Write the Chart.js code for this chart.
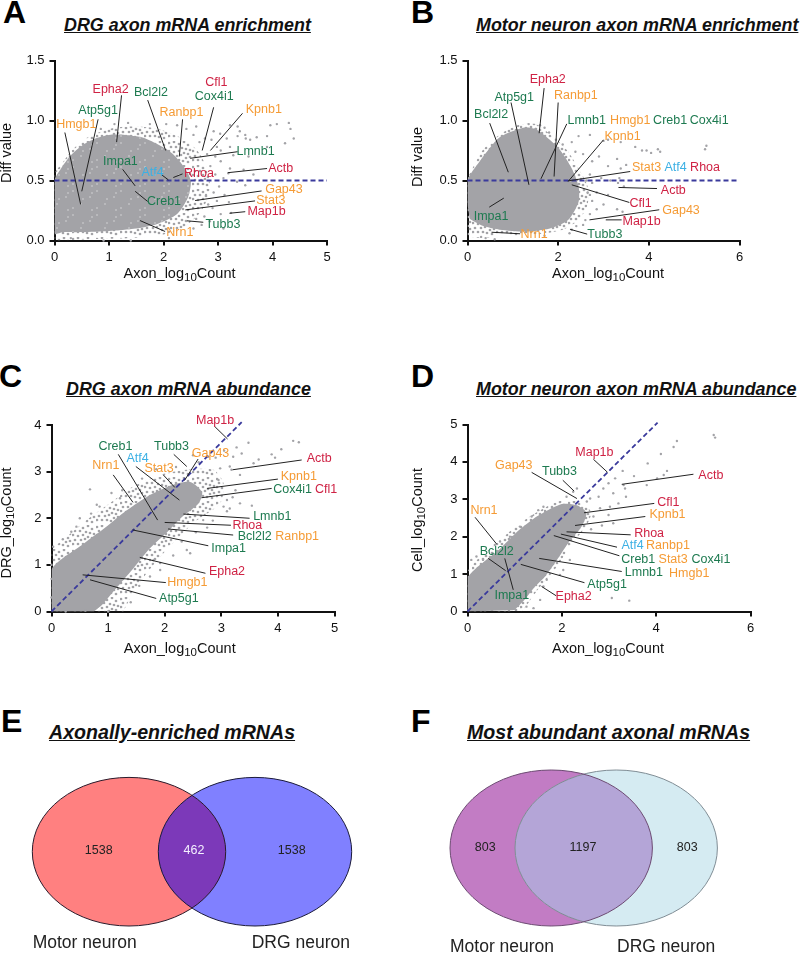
<!DOCTYPE html>
<html>
<head>
<meta charset="utf-8">
<title>Axon mRNA panels</title>
<script src="https://cdn.jsdelivr.net/npm/chart.js@4/dist/chart.umd.min.js"></script>
<style>
    html, body { margin: 0; padding: 0; background: #fff; }
    body { position: relative; width: 800px; height: 953px; overflow: hidden; font-family: "Liberation Sans", sans-serif; }
    canvas { position: absolute; }
    .letter { position: absolute; font: bold 32px/32px "Liberation Sans", sans-serif; color: #000; }
    .title { position: absolute; font: italic bold 17.9px/20px "Liberation Sans", sans-serif; color: #111; text-decoration: underline; white-space: nowrap; }
    .venn-title { font-size: 19.6px; }
</style>
</head>
<body>
<div class="letter" style="left:3px;top:-4px">A</div>
<div class="letter" style="left:411px;top:-4px">B</div>
<div class="letter" style="left:-1px;top:360px">C</div>
<div class="letter" style="left:411px;top:360px">D</div>
<div class="letter" style="left:1px;top:705px">E</div>
<div class="letter" style="left:411px;top:705px">F</div>
<div class="title" style="left:64px;top:15px">DRG axon mRNA enrichment</div>
<div class="title" style="left:476px;top:15px">Motor neuron axon mRNA enrichment</div>
<div class="title" style="left:66px;top:379px">DRG axon mRNA abundance</div>
<div class="title" style="left:476px;top:379px">Motor neuron axon mRNA abundance</div>
<div class="title venn-title" style="left:49px;top:722px">Axonally-enriched mRNAs</div>
<div class="title venn-title" style="left:467px;top:722px">Most abundant axonal mRNAs</div>

<canvas id="chartA"></canvas>
<canvas id="chartB"></canvas>
<canvas id="chartC"></canvas>
<canvas id="chartD"></canvas>
<canvas id="chartE"></canvas>
<canvas id="chartF"></canvas>

<script>
// Gene colour groups
const redGenes = ['Epha2', 'Cfl1', 'Rhoa', 'Actb', 'Map1b'];
const greenGenes = ['Atp5g1', 'Bcl2l2', 'Cox4i1', 'Lmnb1', 'Impa1', 'Creb1', 'Tubb3'];
const blueGenes = ['Atf4'];

// Panel A, values
const cloudHaloA = [[0,0],[0,.55],[.15,.65],[.3,.74],[.5,.83],[.75,.89],[1.1,.94],[1.5,.95],[1.9,.93],[2.3,.86],[2.6,.76],[2.8,.6],[2.85,.42],[2.7,.25],[2.4,.12],[2,.05],[1.4,.02],[.7,.01]];
const cloudCoreA = [[0,.05],[0,.5],[.12,.6],[.3,.71],[.5,.79],[.75,.85],[1,.88],[1.3,.88],[1.6,.86],[1.9,.8],[2.15,.73],[2.35,.63],[2.5,.5],[2.45,.36],[2.25,.22],[1.9,.14],[1.5,.1],[1,.08],[.5,.07],[.15,.07]];
const pointsA = [[3.22,.96],[3.36,.95],[3.5,.88],[3.51,.85],[3.71,.86],[3.9,.87],[3.96,.96],[4.08,.97],[4.3,.98],[4.33,.93],[4.39,.85],[4.23,.81],[3.9,.78],[3.59,.84],[3.4,.91],[3.36,.87],[3.16,.85],[3.04,.89],[2.92,.91],[2.76,.85],[2.98,.78],[3.22,.78],[3.28,.71],[3.56,.7],[3.22,.6],[3.19,.56],[3.47,.59],[3.65,.55],[3.35,.49],[3.5,.46],[3.05,.66],[2.95,.7],[3.1,.52],[3.02,.45],[2.95,.55],[3.12,.38],[2.98,.33],[3.2,.32],[3.05,.22],[2.9,.27],[3.24,.23],[2.85,.16],[2.7,.13],[2.55,.1],[3.1,.1],[2.92,.4],[2.86,.62],[2.8,.72],[2.66,.82],[2.55,.88],[2.42,.93],[2.25,.96],[2.05,.97],[1.75,.97],[1.35,.98],[1.1,.97],[.85,.93],[2.6,.95],[2.88,.84],[3.05,.75],[2.78,.38],[2.82,.3],[2.75,.2],[2.6,.18],[.3,.02],[.9,0],[1.4,0],[2.1,.02]];
const geneLabelsA = [['Epha2',1.03,1.26],['Cfl1',2.97,1.32],['Cox4i1',2.93,1.2],['Bcl2l2',1.77,1.23],['Atp5g1',.8,1.08],['Ranbp1',2.33,1.07],['Kpnb1',3.84,1.095],['Hmgb1',.4,.97],['Lmnb1',3.69,.74],['Impa1',1.21,.66],['Actb',4.15,.6],['Atf4',1.8,.568],['Rhoa',2.65,.555],['Gap43',4.21,.427],['Stat3',3.97,.333],['Creb1',2.01,.322],['Map1b',3.89,.238],['Tubb3',3.09,.136],['Nrn1',2.3,.067]];
const leadersA = [[.19,.9,.48,.3],[.8,1.01,.5,.41],[1.23,1.21,1.14,.82],[1.71,1.17,2.04,.75],[2.35,1.01,2.29,.7],[2.92,1.11,2.71,.75],[3.45,1.06,2.86,.75],[3.36,.74,2.49,.685],[3.9,.6,3.18,.565],[2.35,.555,2.18,.525],[1.97,.546,2.09,.505],[1.25,.593,1.48,.455],[1.48,.41,1.71,.325],[3.8,.413,2.58,.333],[3.68,.33,2.4,.255],[3.5,.24,3.21,.227],[2.73,.152,2.43,.164],[2.03,.075,1.57,.166]];
const refLineA = [[0,.5],[5,.5]];

// Panel B
const cloudHaloB = [[0,.02],[0,.5],[.15,.63],[.35,.76],[.7,.88],[1.1,.96],[1.5,.97],[1.9,.86],[2.2,.75],[2.45,.6],[2.65,.45],[2.65,.3],[2.45,.17],[2.1,.09],[1.5,.05],[.8,.03]];
const cloudCoreB = [[0,.3],[0,.5],[.27,.66],[.71,.86],[1.23,.94],[1.5,.93],[1.75,.86],[2.03,.76],[2.3,.6],[2.45,.45],[2.45,.32],[2.22,.17],[1.82,.1],[1.3,.075],[.71,.09],[.35,.12],[.05,.18]];
const pointsB = [[5.27,.79],[5.24,.76],[4.25,.74],[4.2,.76],[4.05,.73],[3.95,.75],[3.85,.75],[3.7,.78],[3.38,.82],[3.1,.84],[3,.83],[2.7,.88],[2.45,.87],[2.3,.82],[2.38,.74],[2.55,.72],[2.75,.66],[2.9,.7],[3.1,.62],[3.3,.68],[3.38,.6],[3.5,.63],[3.35,.52],[3.32,.48],[3.45,.45],[2.95,.52],[3.15,.5],[2.85,.4],[3.1,.38],[2.75,.33],[3,.3],[3.3,.26],[3.42,.24],[2.85,.26],[2.7,.22],[2.6,.17],[2.55,.13],[2.4,.12],[2.3,.09],[2.25,.06],[1.7,.04],[.6,.01],[.3,.03],[.4,.02],[1.5,.93],[1.6,.96],[1.7,.94],[1.8,.9],[1.35,.97],[1.95,.84],[2.1,.8],[2.62,.5],[2.7,.55],[2.75,.48],[2.65,.4],[2.7,.38]];
const geneLabelsB = [['Epha2',1.77,1.34],['Ranbp1',2.39,1.21],['Atp5g1',1.03,1.19],['Bcl2l2',.52,1.05],['Lmnb1',2.63,1],['Hmgb1',3.59,1],['Creb1',4.47,1],['Cox4i1',5.33,1],['Kpnb1',3.42,.867],['Stat3',3.95,.608],['Atf4',4.59,.608],['Rhoa',5.24,.608],['Actb',4.54,.42],['Cfl1',3.82,.306],['Gap43',4.71,.25],['Map1b',3.84,.156],['Impa1',.52,.197],['Tubb3',3.03,.05],['Nrn1',1.47,.047]];
const leadersB = [[1.69,1.27,1.58,.894],[2,1.15,1.91,.533],[.96,1.15,1.355,.464],[.49,.978,.9,.569],[2.19,.972,1.62,.514],[3,.839,2.22,.492],[3.59,.575,2.22,.497],[4.18,.433,3.33,.442],[3.57,.317,2.3,.464],[4.23,.256,2.69,.172],[3.4,.172,3.05,.172],[.48,.278,.8,.353],[2.64,.053,2.26,.094],[1.16,.056,.53,.069]];
const refLineB = [[0,.5],[6,.5]];

// Panel C
const cloudHaloC = [[0,0],[0,1.29],[.27,1.6],[.62,1.96],[1.03,2.32],[1.44,2.68],[1.92,2.93],[2.39,3.04],[2.86,3.04],[3.04,2.75],[2.98,2.32],[2.5,1.89],[2.03,1.32],[1.68,.82],[1.44,.39],[1.27,0]];
const cloudCoreC = [[0,0],[0,.9],[.56,1.45],[.97,1.82],[1.33,2.17],[1.74,2.5],[2.15,2.72],[2.45,2.78],[2.66,2.56],[2.6,2.32],[2.3,2.02],[2.06,1.72],[1.72,1.33],[1.43,.9],[1.13,.48],[.9,.15],[.75,0]];
const pointsC = [[.68,2.62],[3.48,3.62],[4.27,3.66],[4.37,3.63],[4.06,3.48],[3.89,3.37],[3.95,3.3],[3.66,3.26],[3.57,3.18],[3.36,3.39],[3.27,3.52],[3.15,3.11],[3.18,3.04],[3.21,3.32],[2.98,3.07],[2.77,3.32],[2.95,2.82],[3.33,2.93],[3.1,2.39],[3.33,2.32],[3.54,2.27],[3.04,2.25],[3.15,2.21],[2.68,1.96],[2.39,1.32],[2.45,1.25],[1.92,1.04],[1.92,.89],[1.74,.75],[1.06,2.54],[1.21,2.43],[.85,2.25],[.8,2.29],[.44,1.82],[.35,1.71],[.03,1.39],[2.6,3.2],[2.5,3.35],[2.9,3.3],[3.05,3.45],[3.25,2.6],[3.2,2.45],[3.1,2.15],[2.85,1.95],[2.75,1.8],[2.55,1.7],[2.3,1.5],[2.15,1.2],[1.8,1.1],[1.55,.55],[1.4,.2],[.5,2],[.7,2.1],[1.25,2.6],[1.6,2.85],[1.85,3.05],[2.2,3.1],[.2,1.55],[1,0],[.6,.02],[.25,0],[0,.7],[0,1],[0,.3]];
const geneLabelsC = [['Map1b',2.89,4.09],['Creb1',1.13,3.54],['Tubb3',2.12,3.54],['Gap43',2.81,3.39],['Atf4',1.52,3.28],['Actb',4.73,3.29],['Nrn1',.96,3.12],['Stat3',1.9,3.06],['Kpnb1',4.37,2.89],['Cox4i1',4.26,2.62],['Cfl1',4.85,2.62],['Lmnb1',3.9,2.04],['Rhoa',3.46,1.85],['Bcl2l2',3.59,1.61],['Ranbp1',4.34,1.61],['Impa1',3.13,1.36],['Epha2',3.1,.85],['Hmgb1',2.4,.63],['Atp5g1',2.25,.286]];
const leadersC = [[2.89,3.96,3.11,3.7],[1.18,3.37,1.875,1.96],[2.16,3.37,2.39,3.11],[2.59,3.27,2.35,2.81],[1.49,3.11,2.26,2.39],[1.09,2.93,1.44,2.34],[1.975,2.93,2.18,2.66],[4.42,3.25,3.2,3.04],[4,2.84,2.75,2.64],[3.89,2.64,2.65,2.44],[3.5,2,2.33,2.09],[3.17,1.85,2,1.91],[3.21,1.64,2.06,1.77],[2.77,1.41,1.43,1.75],[2.72,.82,1.56,1.16],[2.02,.62,.55,.786],[1.85,.28,.68,.68]];
const refLineC = [[0,0],[3.36,4.06]];

// Panel D
const cloudHaloD = [[0,0],[0,1.05],[.2,1.38],[.6,1.8],[1,2.25],[1.4,2.6],[1.75,2.85],[2.05,2.98],[2.4,2.92],[2.62,2.65],[2.5,2.25],[2.2,1.8],[1.95,1.3],[1.72,.92],[1.5,.6],[1.3,.25],[1.15,0]];
const cloudCoreD = [[0,0],[0,.88],[.26,1.24],[.69,1.68],[1.04,2.12],[1.4,2.48],[1.75,2.74],[2.03,2.88],[2.32,2.84],[2.52,2.64],[2.42,2.27],[2.13,1.82],[1.85,1.29],[1.64,.93],[1.42,.65],[1.2,.3],[1,.04]];
const pointsD = [[5.22,4.72],[5.25,4.65],[4.44,4.56],[4.37,4.4],[4.1,4.21],[3.82,3.96],[4.23,3.76],[4.16,3.65],[4.02,3.56],[3.8,3.38],[3.53,3.62],[3.29,3.76],[3.13,3.56],[2.99,3.43],[2.88,3.29],[3.31,3.38],[3.34,3.29],[3.36,3.07],[3.09,3.16],[2.78,3.07],[2.6,3.02],[2.81,2.76],[3.02,2.8],[3.2,2.89],[2.53,2.94],[2.32,3.29],[2.24,3.2],[2.1,3.07],[2.99,2.58],[3.09,2.36],[2.67,2.54],[2.62,2.2],[2.85,2.3],[3.06,.36],[3.43,.29],[2.03,1.11],[1.96,.98],[2.17,1.38],[1.68,.85],[1.61,.67],[1.54,.31],[1.4,.09],[1.25,.13],[.33,1.38],[.08,1.38],[.19,1.47],[1.61,2.8],[1.5,2.71],[1.36,2.54],[1.11,2.27],[.9,2],[.69,1.87],[.58,1.78]];
const geneLabelsD = [['Map1b',2.69,4.24],['Gap43',.98,3.89],['Tubb3',1.95,3.73],['Actb',5.16,3.63],['Cfl1',4.26,2.91],['Nrn1',.35,2.7],['Kpnb1',4.24,2.6],['Rhoa',3.85,2.08],['Atf4',3.5,1.76],['Ranbp1',4.25,1.76],['Bcl2l2',.62,1.59],['Creb1',3.62,1.38],['Stat3',4.36,1.38],['Cox4i1',5.16,1.38],['Lmnb1',3.74,1.04],['Hmgb1',4.7,1.02],['Atp5g1',2.96,.71],['Epha2',2.25,.4],['Impa1',.94,.436]];
const leadersD = [[2.67,4.07,2.97,3.72],[1.36,3.72,2.32,3.02],[2.02,3.51,2.26,3.22],[4.79,3.67,3.27,3.4],[3.96,2.89,2.47,2.64],[3.77,2.54,2.28,2.3],[.16,2.52,.62,1.8],[3.46,2.05,2.1,2.13],[3.17,1.72,1.98,2.07],[3.22,1.49,1.83,2.03],[3.27,1.07,1.52,1.42],[2.48,.77,1.13,1.26],[.44,1.42,.81,1.09],[.79,1.42,.97,.58],[1.88,.42,1.57,.67]];
const refLineD = [[0,0],[4.03,5.05]];

// Venn counts
const vennCountsE = ['1538', '462', '1538'];
const vennCountsF = ['803', '1197', '803'];
const vennNames = ['Motor neuron', 'DRG neuron'];

const GRAY = '#a3a3a7';
const NAVY = '#3a3a9c';

// Fringe of each cloud is a stipple, the tile below is just a texture
const stippleDots = [[1,2],[6,1],[11,3],[16,1],[20,4],[3,6],[8,6],[14,7],[18,8],[22,9],[1,10],[6,11],[11,10],[16,12],[20,13],[3,15],[9,15],[13,14],[18,17],[22,16],[1,19],[6,19],[11,19],[15,20],[20,21]];
const makeStipple = () => {
    const tile = document.createElement('canvas');
    tile.width = 24;
    tile.height = 24;
    const t = tile.getContext('2d');
    t.fillStyle = GRAY;
    stippleDots.forEach(([x, y]) => {
        t.beginPath();
        t.arc(x, y, 1.35, 0, Math.PI * 2);
        t.fill();
    });
    return t.createPattern(tile, 'repeat');
};

// Panel A's body is mottled with small white gaps
const makeMottled = () => {
    const tile = document.createElement('canvas');
    tile.width = 24;
    tile.height = 24;
    const t = tile.getContext('2d');
    t.fillStyle = GRAY;
    t.fillRect(0, 0, 24, 24);
    t.fillStyle = 'rgba(255,255,255,0.55)';
    stippleDots.filter((d, i) => i % 4 === 0).forEach(([x, y]) => {
        t.beginPath();
        t.arc(x, y, 0.8, 0, Math.PI * 2);
        t.fill();
    });
    return t.createPattern(tile, 'repeat');
};

const toPts = (list) => list.map(([x, y]) => ({ x, y }));

const geneColor = (name) => {
    if (redGenes.includes(name)) return '#cf2244';
    if (greenGenes.includes(name)) return '#1d7a50';
    if (blueGenes.includes(name)) return '#3cb0e4';
    return '#f59b35';
};

// Gene names go on top of the leaders, placed through the scales
const geneLabelPlugin = {
    id: 'geneLabels',
    afterDatasetsDraw(chart, args, opts) {
        const { ctx, scales } = chart;
        ctx.save();
        ctx.font = '12.5px "Liberation Sans"';
        ctx.textAlign = 'center';
        ctx.textBaseline = 'middle';
        opts.items.forEach(([name, x, y]) => {
            ctx.fillStyle = geneColor(name);
            ctx.fillText(name, scales.x.getPixelForValue(x), scales.y.getPixelForValue(y));
        });
        ctx.restore();
    }
};

// Axis titles, drawn by hand because of the subscript
const axisTitlePlugin = {
    id: 'axisTitles',
    afterDraw(chart, args, opts) {
        const { ctx } = chart;
        ctx.save();
        ctx.fillStyle = '#111';
        ctx.textBaseline = 'alphabetic';
        drawTitle(ctx, opts.x, opts.xPos[0], opts.xPos[1], false);
        drawTitle(ctx, opts.y, opts.yPos[0], opts.yPos[1], true);
        ctx.restore();
    }
};

const drawTitle = (ctx, text, cx, cy, rotated) => {
    const parts = text.split('|');
    const big = '14.5px "Liberation Sans"';
    const small = '11.5px "Liberation Sans"';
    let total = 0;
    parts.forEach((part, i) => {
        ctx.font = i === 1 ? small : big;
        total += ctx.measureText(part).width;
    });
    ctx.save();
    ctx.translate(cx, cy);
    if (rotated) ctx.rotate(-Math.PI / 2);
    let pos = -total / 2;
    parts.forEach((part, i) => {
        ctx.font = i === 1 ? small : big;
        ctx.fillText(part, pos, i === 1 ? 8 : 5);
        pos += ctx.measureText(part).width;
    });
    ctx.restore();
};

const makeScatter = (id, box, plot, axes, series) => {
    const canvas = document.getElementById(id);
    canvas.width = box.w;
    canvas.height = box.h;
    canvas.style.left = box.x + 'px';
    canvas.style.top = box.y + 'px';

    const datasets = [];
    series.leaders.forEach(([x1, y1, x2, y2]) => {
        datasets.push({ type: 'line', data: toPts([[x1, y1], [x2, y2]]), borderColor: '#222', borderWidth: 1, pointRadius: 0, clip: false });
    });
    datasets.push({ type: 'line', data: toPts(series.refLine), borderColor: NAVY, borderWidth: 1.8, borderDash: [5, 3], pointRadius: 0, clip: false });
    datasets.push({ type: 'scatter', data: toPts(series.points), backgroundColor: GRAY, borderWidth: 0, pointRadius: 1.2, clip: false });
    datasets.push({ type: 'line', data: toPts(series.core), backgroundColor: series.mottled ? makeMottled() : GRAY, borderWidth: 0, fill: 'shape', pointRadius: 0, tension: 0.25 });
    datasets.push({ type: 'line', data: toPts(series.halo), backgroundColor: makeStipple(), borderWidth: 0, fill: 'shape', pointRadius: 0, tension: 0.25 });

    const tickStyle = { color: '#111', font: { size: 13, family: '"Liberation Sans"' } };
    return new Chart(canvas, {
        data: { datasets },
        plugins: [geneLabelPlugin, axisTitlePlugin],
        options: {
            responsive: false,
            animation: false,
            layout: { padding: { top: plot.top - box.y, right: box.x + box.w - plot.right, left: 0, bottom: 0 } },
            plugins: {
                legend: { display: false },
                tooltip: { enabled: false },
                geneLabels: { items: series.labels },
                axisTitles: {
                    x: 'Axon_log|10|Count',
                    y: axes.yTitle,
                    xPos: [axes.xTitleAt[0] - box.x, axes.xTitleAt[1] - box.y],
                    yPos: [axes.yTitleAt[0] - box.x, axes.yTitleAt[1] - box.y]
                }
            },
            scales: {
                x: {
                    type: 'linear', min: 0, max: axes.xMax,
                    grid: { drawOnChartArea: false, color: '#111', lineWidth: 2, tickLength: 5 },
                    border: { color: '#111', width: 2 },
                    ticks: { ...tickStyle, stepSize: axes.xStep, padding: 4, maxRotation: 0 },
                    afterFit: (scale) => { scale.height = box.y + box.h - plot.bottom; }
                },
                y: {
                    type: 'linear', min: 0, max: axes.yMax,
                    grid: { drawOnChartArea: false, color: '#111', lineWidth: 2, tickLength: 5 },
                    border: { color: '#111', width: 2 },
                    ticks: { ...tickStyle, stepSize: axes.yStep, padding: 5, callback: (v) => axes.yStep < 1 ? v.toFixed(1) : String(v) },
                    afterFit: (scale) => { scale.width = plot.left - box.x; }
                }
            }
        }
    });
};

makeScatter('chartA', { x: 0, y: 45, w: 400, h: 245 }, { left: 54.5, right: 327, top: 60.5, bottom: 240.5 },
    { xMax: 5, xStep: 1, yMax: 1.5, yStep: .5, yTitle: 'Diff value', xTitleAt: [179.5, 273], yTitleAt: [6, 153] },
    { points: pointsA, core: cloudCoreA, halo: cloudHaloA, labels: geneLabelsA, leaders: leadersA, refLine: refLineA, mottled: true });
makeScatter('chartB', { x: 400, y: 45, w: 400, h: 245 }, { left: 467.5, right: 739.5, top: 60.5, bottom: 240.5 },
    { xMax: 6, xStep: 2, yMax: 1.5, yStep: .5, yTitle: 'Diff value', xTitleAt: [608, 273], yTitleAt: [417, 157] },
    { points: pointsB, core: cloudCoreB, halo: cloudHaloB, labels: geneLabelsB, leaders: leadersB, refLine: refLineB });
makeScatter('chartC', { x: 0, y: 405, w: 400, h: 255 }, { left: 51.5, right: 334.5, top: 425, bottom: 611.5 },
    { xMax: 5, xStep: 1, yMax: 4, yStep: 1, yTitle: 'DRG_log|10|Count', xTitleAt: [179.7, 648], yTitleAt: [6, 523] },
    { points: pointsC, core: cloudCoreC, halo: cloudHaloC, labels: geneLabelsC, leaders: leadersC, refLine: refLineC });
makeScatter('chartD', { x: 400, y: 405, w: 400, h: 255 }, { left: 467.5, right: 750.5, top: 424.5, bottom: 611.5 },
    { xMax: 6, xStep: 2, yMax: 5, yStep: 1, yTitle: 'Cell_log|10|Count', xTitleAt: [608, 648], yTitleAt: [417, 520] },
    { points: pointsD, core: cloudCoreD, halo: cloudHaloD, labels: geneLabelsD, leaders: leadersD, refLine: refLineD });

// Venn panels: two ellipses and the overlap
const vennPlugin = {
    id: 'venn',
    afterDatasetsDraw(chart, args, o) {
        const { ctx, scales } = chart;
        const px = (v) => scales.x.getPixelForValue(v);
        const py = (v) => scales.y.getPixelForValue(v);
        const shape = (cx) => {
            ctx.beginPath();
            ctx.ellipse(px(cx), py(o.cy), o.rx, o.ry, 0, 0, Math.PI * 2);
        };
        ctx.save();
        shape(o.cx[0]); ctx.fillStyle = o.left; ctx.fill();
        shape(o.cx[1]); ctx.fillStyle = o.right; ctx.fill();
        ctx.save();
        shape(o.cx[0]); ctx.clip();
        shape(o.cx[1]); ctx.fillStyle = o.both; ctx.fill();
        ctx.restore();
        ctx.lineWidth = 1;
        shape(o.cx[1]); ctx.strokeStyle = o.rightEdge; ctx.stroke();
        shape(o.cx[0]); ctx.strokeStyle = o.leftEdge; ctx.stroke();

        ctx.textAlign = 'center';
        ctx.textBaseline = 'middle';
        ctx.font = '12.5px "Liberation Sans"';
        o.counts.forEach((txt, i) => {
            ctx.fillStyle = o.countColors[i];
            ctx.fillText(txt, px(o.countX[i]), py(o.countY));
        });
        ctx.font = '17.5px "Liberation Sans"';
        ctx.fillStyle = '#222';
        ctx.textAlign = 'left';
        vennNames.forEach((txt, i) => {
            ctx.fillText(txt, px(o.nameX[i]), py(o.nameY));
        });
        ctx.restore();
    }
};

const makeVenn = (id, left, settings) => {
    const canvas = document.getElementById(id);
    canvas.width = 400;
    canvas.height = 203;
    canvas.style.left = left + 'px';
    canvas.style.top = '750px';
    return new Chart(canvas, {
        type: 'scatter',
        data: { datasets: [{ data: settings.countX.map((x) => ({ x, y: settings.countY })), pointRadius: 0 }] },
        plugins: [vennPlugin],
        options: {
            responsive: false,
            animation: false,
            layout: { padding: 0 },
            plugins: { legend: { display: false }, tooltip: { enabled: false }, venn: settings },
            scales: {
                x: { type: 'linear', display: false, min: left, max: left + 400 },
                y: { type: 'linear', display: false, min: 750, max: 953, reverse: true }
            }
        }
    });
};

makeVenn('chartE', 0, {
    cx: [129, 255], cy: 851.7, rx: 96.7, ry: 74.3,
    left: '#ff8080', right: '#8080ff', both: '#7c39b9', leftEdge: '#2a1a2a', rightEdge: '#1a1a3a',
    counts: vennCountsE, countX: [98.7, 194, 291.7], countY: 850.5, countColors: ['#222', '#f4f0ff', '#222'],
    nameX: [32.7, 251.7], nameY: 942.7
});
makeVenn('chartF', 400, {
    cx: [551.2, 616.2], cy: 848, rx: 101.2, ry: 78,
    left: '#c27cc4', right: '#d5ebf2', both: '#b4a5d7', leftEdge: '#6c4a72', rightEdge: '#7f8c94',
    counts: vennCountsF, countX: [485.3, 583, 687.3], countY: 847.5, countColors: ['#222', '#222', '#222'],
    nameX: [450, 617], nameY: 946.7
});
</script>
</body>
</html>
